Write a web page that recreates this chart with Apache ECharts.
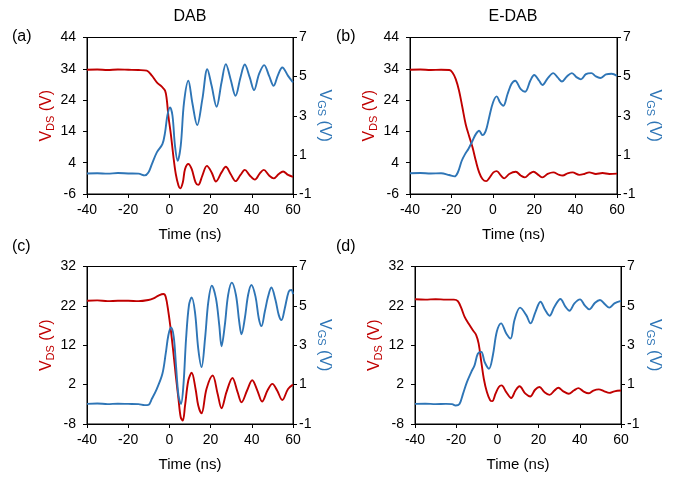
<!DOCTYPE html>
<html>
<head>
<meta charset="utf-8">
<script src="https://cdn.jsdelivr.net/npm/echarts@6/dist/echarts.min.js"></script>
<style>html,body{margin:0;padding:0;background:#fff}#c{width:675px;height:480px}</style>
</head>
<body>
<div id="c"></div>
<script>
// ---- Data (time in ns, voltages in V) ----
var tA_ds = [-40,-35,-30,-25,-20,-15,-11,-8.5,-6,-3.7,-2.1,-1.3,-0.5,0.8,1.9,3.1,4.4,5.2,6.5,7.6,9.2,10.8,12.7,14,16,18.2,20.5,22.6,25.3,27.4,29.7,32.1,34.5,36.6,39,41.5,43.9,45.8,48.4,50.6,53.1,55.2,57.6,60];
var vA_ds = [33.7,33.8,33.6,33.8,33.7,33.6,33.4,31.8,29.6,28.3,27,24.3,19,12.6,6.2,0.4,-3.3,-4.2,-2.3,2,3.6,2,-2.3,-3.1,-0.1,3,0.9,-2,0.9,2.7,0.4,-1.9,0.1,1.7,-0.1,-1.4,0.6,1.7,-0.1,-1,0.4,1.2,0.1,-0.5];
var tA_gs = [-40,-35,-30,-25,-20,-15,-12,-10.2,-8.5,-6.1,-3.4,-2.1,-1,0.3,1.5,2.7,4,5.5,7.1,9.2,11.1,13.5,16,18.4,20.5,22.9,25.3,27.4,29.7,32.1,34.5,36.6,39,41.1,43.5,46,48.4,50.6,52.7,54.8,57.6,60];
var vA_gs = [0.05,0.06,0.04,0.07,0.05,0.04,-0.05,0.1,0.53,1.13,1.55,2.15,3,3.43,3,1.47,0.7,1.47,3.68,4.79,3.68,2.52,3.85,5.38,4.53,3.46,4.7,5.64,4.87,4.02,4.96,5.62,4.96,4.31,5.13,5.59,5.04,4.53,5.08,5.47,5.04,4.7];

var tB_ds = [-40,-35,-30,-25,-21,-19.5,-17.9,-16.3,-14.7,-13.1,-11.5,-9.8,-8.2,-6.6,-5,-3.2,-1.8,0.3,1.9,3.9,5.5,7.9,11.1,13.5,15.5,17.6,19.7,22,24,26.5,29.2,32.1,33.8,36.1,38.5,41.8,44.2,46.6,49.8,53,56.3,60];
var vB_ds = [33.7,33.8,33.6,33.7,33.6,32.8,30.7,27,21.7,16.3,12.6,8.9,4.6,0.9,-1.2,-1.9,-1,0.9,1.3,-0.1,-1,0.4,1.1,-0.1,-0.7,0.4,1.1,0.1,-0.7,0.4,0.9,0.1,-0.1,0.6,0.9,0.1,0.4,0.9,0.4,0.7,0.4,0.5];
var tB_gs = [-40,-35,-30,-25,-21.1,-18.5,-16.9,-15,-13.4,-11.8,-9.8,-8.2,-6.6,-5,-3.4,-1.8,0.1,1.9,3.5,5.1,7.1,9,10.8,13.5,15.6,18.1,20,22.4,24,26.5,29.2,31.3,33.4,35.8,38.2,40.6,42.6,45,47.6,49.8,51.9,54.7,57.4,60];
var vB_gs = [0.06,0.07,0.05,0.06,-0.03,-0.1,0.1,0.7,1.04,1.3,1.72,2.06,2.23,2.01,2.23,2.9,3.68,3.99,3.68,3.51,4.1,4.62,4.79,4.36,4.23,4.79,5.08,4.79,4.57,4.91,5.18,4.96,4.75,5.01,5.18,4.96,4.86,5.13,5.18,5.01,4.93,5.11,5.15,5.04];

var tC_ds = [-40,-35,-30,-25,-20,-15,-10.2,-7.7,-5.3,-2.9,-1.8,-0.5,0.8,1.9,3.1,4.4,5.5,6.5,7.6,9.2,10.8,12.7,14,15.6,18,21,23.4,25.3,27.7,30.6,33.1,35,37.7,40.2,42.7,45,47.6,50,52.3,54.8,57.6,60];
var vC_ds = [23.3,23.4,23.2,23.3,23.3,23.2,23.5,23.9,24.6,25,24.3,20.5,15.4,10.3,4.3,-1.6,-6.3,-7.1,-3.3,3.1,5,0.9,-3.3,-5.3,0.9,4.3,-0.3,-4,0.1,3.7,0.1,-2.5,0.5,3.1,0.5,-2.3,0.5,2.2,0.5,-1.9,0.9,2];
var tC_gs = [-40,-35,-30,-25,-20,-15,-12,-10.2,-8.5,-6.1,-3.4,-1.8,-0.5,0.8,2.1,3.2,4.4,5.6,6.8,8.1,9.5,10.8,12.4,14,15.6,17.3,18.9,20.6,22.6,24.2,25.3,26.9,28.5,30.3,32.3,33.9,35,36.6,38.2,39.8,41.8,43.4,44.7,46.3,47.9,49.5,51.5,53.1,54.4,56,57.9,59.2,60];
var vC_gs = [0.02,0.04,0.01,0.03,0.02,0.01,-0.04,-0.03,0.28,0.79,1.55,2.57,3.51,3.9,3.43,1.98,0.45,0.02,0.96,3.34,5.04,5.43,4.7,2.83,1.89,3.34,5.21,6.03,5.38,4.02,2.95,4.02,5.55,6.18,5.55,4.19,3.56,4.36,5.55,6.06,5.47,4.36,3.97,4.7,5.47,5.93,5.3,4.53,4.28,4.87,5.72,5.81,5.6];

var tD_ds = [-40,-35,-30,-25,-21.1,-19.2,-17.5,-15.9,-14,-11.9,-10.3,-9.1,-7.8,-6.6,-5.1,-3.5,-2.5,-0.9,0.7,2,4.3,6.7,8.8,10.7,13.6,15.9,18.3,20.4,22.8,25.3,27.7,29.6,32,34.6,37.1,39.3,41.7,44.2,46.6,49.2,51.9,54.3,56.8,60];
var vD_ds = [23.7,23.6,23.7,23.6,23.6,23.2,21.4,19.2,17.5,15.8,14.6,12.4,7.7,3.5,0.1,-2,-2.2,-0.3,1.4,1.8,0.1,-1.4,0.5,1.6,-0.3,-1,0.7,1.4,0.1,-0.6,0.5,1.2,0.3,-0.3,0.5,1.1,0.3,-0.2,0.5,0.8,0.3,-0.1,0.3,0.5];
var tD_gs = [-40,-35,-30,-25,-22,-20.3,-18.4,-16.7,-14.8,-12.7,-11.1,-9.5,-7.8,-6.2,-4.1,-2.2,-0.3,1.8,4.3,6.4,8.3,11,14,16.1,18.5,20.9,23.2,25.3,27.7,30.6,33,35,37.4,40.1,42.5,44.6,47.4,49.8,52.2,54.3,56.8,60];
var vD_gs = [0.02,0.03,0.01,0.02,0.01,-0.06,0.02,0.53,1.13,1.64,1.98,2.57,2.66,2.15,1.81,2.49,3.68,4.11,3.6,3.34,4.28,4.91,4.53,4.11,4.7,5.21,4.79,4.5,4.96,5.35,4.96,4.75,5.13,5.33,5.01,4.82,5.16,5.3,5.08,4.91,5.13,5.25];

// Axis ticks
var xMin = -40, xMax = 60, xStep = 20;
var ticksDS_top = [-6, 4, 14, 24, 34, 44];
var ticksDS_bot = [-8, 2, 12, 22, 32];
var ticksGS = [-1, 1, 3, 5, 7];
var panelTitles = ['DAB', 'E-DAB'];
var panelLabels = ['(a)', '(b)', '(c)', '(d)'];

var RED = '#C00000', BLUE = '#2E75B6';
var FONT = 'Liberation Sans, Arial, sans-serif';

function zip(t, v) { return t.map(function (x, i) { return [x, v[i]]; }); }

var grids = [
  {left: 87, top: 37.5, width: 206, height: 156.5},
  {left: 410, top: 37.5, width: 207, height: 156.5},
  {left: 87, top: 266.5, width: 206, height: 157.5},
  {left: 415, top: 266.5, width: 206, height: 157.5}
];
var leftGap = [30, 26, 30, 31];
var rightGap = [20, 29, 20, 25];

var panels = [
  {tds: tA_ds, vds: vA_ds, tgs: tA_gs, vgs: vA_gs, ticks: ticksDS_top},
  {tds: tB_ds, vds: vB_ds, tgs: tB_gs, vgs: vB_gs, ticks: ticksDS_top},
  {tds: tC_ds, vds: vC_ds, tgs: tC_gs, vgs: vC_gs, ticks: ticksDS_bot},
  {tds: tD_ds, vds: vD_ds, tgs: tD_gs, vgs: vD_gs, ticks: ticksDS_bot}
];

var xAxes = [], yAxes = [], series = [];
var richName = function (color) {
  return {
    v: {fontSize: 16, lineHeight: 16, color: color, verticalAlign: 'top', fontFamily: FONT},
    s: {fontSize: 11, lineHeight: 12, color: color, padding: [8, 0, 0, 0], fontFamily: FONT}
  };
};

panels.forEach(function (p, i) {
  xAxes.push({
    type: 'value', gridIndex: i, min: xMin, max: xMax, interval: xStep,
    axisLine: {onZero: false, lineStyle: {color: '#000', width: 1}},
    axisTick: {show: true, inside: false, length: 4, lineStyle: {color: '#000'}},
    axisLabel: {color: '#000', fontSize: 14, margin: 9, fontFamily: FONT},
    splitLine: {show: false},
    name: 'Time (ns)', nameLocation: 'middle', nameGap: 33,
    nameTextStyle: {color: '#000', fontSize: 15, fontFamily: FONT}
  });
  var lo = p.ticks[0], hi = p.ticks[p.ticks.length - 1];
  yAxes.push({
    type: 'value', gridIndex: i, position: 'left', min: lo, max: hi,
    axisLine: {show: true, onZero: false, lineStyle: {color: '#000', width: 1}},
    axisTick: {show: true, inside: false, length: 4, customValues: p.ticks, lineStyle: {color: '#000'}},
    axisLabel: {color: '#000', fontSize: 14, margin: 11, customValues: p.ticks, fontFamily: FONT},
    splitLine: {show: false},
    name: '{v|V}{s|DS}{v| (V)}', nameLocation: 'middle', nameGap: leftGap[i], nameRotate: 90,
    nameTextStyle: {rich: richName(RED)}
  });
  yAxes.push({
    type: 'value', gridIndex: i, position: 'right', min: ticksGS[0], max: ticksGS[ticksGS.length - 1],
    axisLine: {show: true, onZero: false, lineStyle: {color: '#000', width: 1}},
    axisTick: {show: true, inside: false, length: 4, customValues: ticksGS, lineStyle: {color: '#000'}},
    axisLabel: {color: '#000', fontSize: 14, margin: 6, customValues: ticksGS, fontFamily: FONT},
    splitLine: {show: false},
    name: '{v|V}{s|GS}{v| (V)}', nameLocation: 'middle', nameGap: rightGap[i], nameRotate: -90,
    nameTextStyle: {rich: richName(BLUE)}
  });
  series.push({
    type: 'line', xAxisIndex: i, yAxisIndex: 2 * i, data: zip(p.tds, p.vds),
    showSymbol: false, smooth: 0.35, lineStyle: {color: RED, width: 1.9}, itemStyle: {color: RED}, z: 2
  });
  series.push({
    type: 'line', xAxisIndex: i, yAxisIndex: 2 * i + 1, data: zip(p.tgs, p.vgs),
    showSymbol: false, smooth: 0.35, lineStyle: {color: BLUE, width: 1.9}, itemStyle: {color: BLUE}, z: 3
  });
});

var graphics = [
  {type: 'text', x: 190, y: 17, style: {text: panelTitles[0], fontSize: 16, fontFamily: FONT, fill: '#000', align: 'center', verticalAlign: 'middle'}},
  {type: 'text', x: 513, y: 17, style: {text: panelTitles[1], fontSize: 16, fontFamily: FONT, fill: '#000', align: 'center', verticalAlign: 'middle'}},
  {type: 'text', x: 12, y: 37, style: {text: panelLabels[0], fontSize: 16, fontFamily: FONT, fill: '#000', align: 'left', verticalAlign: 'middle'}},
  {type: 'text', x: 336, y: 37, style: {text: panelLabels[1], fontSize: 16, fontFamily: FONT, fill: '#000', align: 'left', verticalAlign: 'middle'}},
  {type: 'text', x: 12, y: 247, style: {text: panelLabels[2], fontSize: 16, fontFamily: FONT, fill: '#000', align: 'left', verticalAlign: 'middle'}},
  {type: 'text', x: 336, y: 247, style: {text: panelLabels[3], fontSize: 16, fontFamily: FONT, fill: '#000', align: 'left', verticalAlign: 'middle'}}
];

var chart = echarts.init(document.getElementById('c'), null, {renderer: 'canvas'});
chart.setOption({
  animation: false,
  backgroundColor: '#fff',
  textStyle: {fontFamily: FONT},
  grid: grids.map(function (g) { return Object.assign({show: true, borderColor: '#000', borderWidth: 1, backgroundColor: 'transparent', containLabel: false}, g); }),
  xAxis: xAxes,
  yAxis: yAxes,
  series: series,
  graphic: graphics
});
</script>
</body>
</html>
